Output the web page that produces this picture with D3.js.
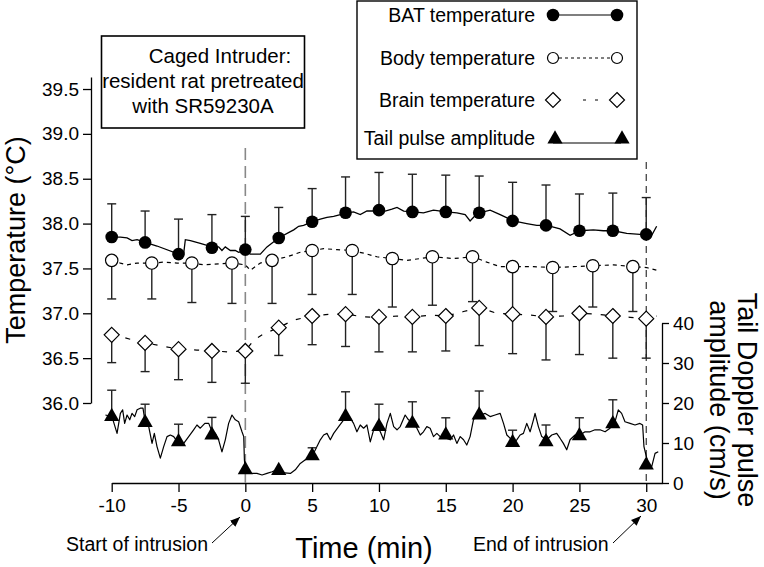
<!DOCTYPE html>
<html>
<head>
<meta charset="utf-8">
<script src="https://cdn.jsdelivr.net/npm/d3@7/dist/d3.min.js"></script>
<style>
  html, body { margin: 0; padding: 0; background: #fff; }
  svg { display: block; font-family: "Liberation Sans", Arial, Helvetica, sans-serif; }
</style>
</head>
<body>
<svg id="chart" width="764" height="567"></svg>
<script>
// ---------- data ----------
const markerTimes = [-10, -7.5, -5, -2.5, 0, 2.5, 5, 7.5, 10, 12.5, 15, 17.5, 20, 22.5, 25, 27.5, 30];
const bodyTimes = [-10, -7, -4, -1, 2, 5, 8, 11, 14, 17, 20, 23, 26, 29];

const batMean = [37.85, 37.79, 37.66, 37.73, 37.71, 37.84, 38.02, 38.12, 38.15, 38.13, 38.13, 38.12, 38.03, 37.98, 37.92, 37.92, 37.88];
const batSE   = [0.37, 0.35, 0.39, 0.37, 0.37, 0.34, 0.37, 0.40, 0.42, 0.42, 0.41, 0.41, 0.43, 0.45, 0.41, 0.42, 0.41];

const bodyMean = [37.59, 37.56, 37.56, 37.56, 37.59, 37.70, 37.70, 37.61, 37.63, 37.63, 37.52, 37.51, 37.53, 37.52];
const bodySE   = [0.43, 0.40, 0.44, 0.45, 0.48, 0.49, 0.49, 0.54, 0.54, 0.50, 0.50, 0.49, 0.46, 0.50];

const brainMean = [36.76, 36.67, 36.60, 36.58, 36.58, 36.84, 36.97, 36.99, 36.96, 36.96, 36.97, 37.06, 36.99, 36.96, 37.00, 36.97, 36.94];
const brainSE   = [0.31, 0.32, 0.34, 0.35, 0.36, 0.31, 0.32, 0.36, 0.39, 0.39, 0.39, 0.42, 0.44, 0.48, 0.46, 0.47, 0.44];

const tailMean = [16.6, 15.1, 10.3, 12.0, 3.3, 3.1, 6.8, 16.6, 14.1, 14.9, 12.0, 17.0, 10.1, 10.3, 11.8, 14.8, 4.5];
const tailSE   = [6.6, 4.6, 4.4, 4.4, 0, 0, 2.0, 6.2, 5.6, 5.4, 4.3, 6.0, 3.1, 4.2, 4.5, 6.0, 0];

// continuous traces [time (min), value]
const batTrace = [[-10,37.85],[-9.35,37.85],[-8.85,37.84],[-8.48,37.81],[-8.10,37.82],[-7.48,37.79],[-6.61,37.75],[-4.99,37.66],[-4.61,37.67],[-4.49,37.82],[-4.11,37.81],[-3.37,37.78],[-2.49,37.74],[-2.0,37.74],[-1.75,37.70],[-1.5,37.74],[-1.12,37.70],[-0.75,37.70],[-0.5,37.68],[0,37.70],[0.37,37.66],[1.12,37.66],[1.62,37.74],[2.49,37.84],[3.37,37.91],[3.62,37.93],[3.99,37.97],[4.36,37.98],[4.99,38.02],[5.61,38.05],[6.11,38.07],[6.61,38.08],[7.11,38.10],[7.56,38.12],[8.10,38.13],[8.60,38.10],[9.10,38.14],[9.60,38.14],[10.05,38.15],[10.47,38.14],[10.97,38.16],[11.35,38.18],[11.85,38.14],[12.59,38.13],[13.33,38.12],[14.08,38.15],[15.03,38.13],[15.83,38.12],[16.45,38.10],[16.82,38.03],[17.20,38.09],[17.52,38.12],[18.32,38.15],[19.07,38.10],[20.06,38.03],[21.06,38.00],[21.81,37.98],[22.56,37.98],[23.55,37.94],[24.30,37.87],[25.05,37.92],[26.04,37.93],[26.79,37.92],[27.54,37.92],[28.54,37.89],[29.53,37.88],[30.03,37.88],[30.41,37.87],[30.78,37.97]];

const bodyTrace = [[-10,37.59],[-9.35,37.56],[-8.85,37.54],[-8.10,37.56],[-6.98,37.56],[-6.11,37.57],[-5.11,37.56],[-3.99,37.56],[-3.12,37.54],[-2.0,37.55],[-1.0,37.56],[0,37.54],[0.37,37.48],[1.12,37.56],[2.0,37.59],[3.12,37.63],[4.11,37.68],[4.99,37.70],[5.86,37.72],[6.86,37.71],[7.98,37.70],[8.85,37.67],[9.85,37.63],[10.97,37.61],[12.09,37.59],[13.09,37.61],[14.08,37.63],[15.58,37.61],[17.07,37.63],[18.07,37.57],[19.07,37.52],[20.06,37.52],[21.56,37.52],[23.05,37.51],[24.55,37.52],[26.04,37.53],[27.54,37.54],[29.04,37.52],[30.03,37.51],[30.78,37.48]];

const brainTrace = [[-10,36.76],[-9.35,36.74],[-8.35,36.70],[-7.48,36.67],[-6.23,36.635],[-4.99,36.60],[-3.62,36.59],[-2.49,36.58],[-1.25,36.57],[0,36.58],[0.62,36.70],[1.37,36.77],[2.49,36.84],[3.62,36.925],[4.99,36.97],[6.36,36.99],[7.56,36.99],[8.85,36.96],[10.05,36.955],[11.35,36.97],[12.59,36.96],[13.83,36.98],[15.03,36.97],[16.33,37.02],[17.57,37.06],[18.82,37.00],[20.06,36.99],[21.31,36.98],[22.56,36.96],[23.80,36.97],[25.05,37.00],[26.29,36.99],[27.54,36.97],[28.79,36.955],[30.03,36.94],[30.78,36.97]];

const tailTrace = [[-10.47,17],[-9.98,16.6],[-9.60,12.4],[-9.35,17.4],[-9.18,18.3],[-9.03,14.9],[-8.85,17],[-8.65,15.8],[-8.48,17.4],[-8.28,16.6],[-8.10,18.3],[-7.86,18.7],[-7.66,18.7],[-7.48,14.9],[-7.23,14.1],[-6.98,9.9],[-6.81,12.4],[-6.61,9.1],[-6.36,6.2],[-6.11,9.1],[-5.86,11.6],[-5.61,12],[-5.36,11.6],[-4.99,9.9],[-4.61,9.9],[-4.24,11.6],[-3.87,13.3],[-3.62,14.5],[-3.37,13.7],[-3.03,14.9],[-2.74,14.9],[-2.49,12.8],[-2.24,12.4],[-2.0,10.8],[-1.75,7.8],[-1.5,10.8],[-1.25,14.9],[-1.0,17],[-0.75,15.8],[-0.5,15.3],[-0.25,12.8],[-0.12,11.6],[-0.07,5.8],[0,2.8],[0.37,2.4],[0.87,2.4],[1.25,2],[1.62,2.4],[2.0,2.8],[2.37,3.3],[2.74,2.6],[3.37,2.4],[3.74,3.3],[4.11,4.9],[4.49,5.8],[4.99,6.6],[5.36,9.1],[5.61,10.8],[5.86,12],[6.11,12.4],[6.36,10.8],[6.61,12.4],[6.98,14.1],[7.36,15.8],[7.56,16.6],[7.86,16.2],[8.10,14.9],[8.35,12.8],[8.60,14.5],[8.85,13.7],[9.10,14.5],[9.35,10.3],[9.60,13.3],[9.85,14.1],[10.10,12.8],[10.35,10.8],[10.60,14.9],[10.85,17.4],[11.10,14.1],[11.35,13.3],[11.59,14.1],[11.96,17],[12.21,15.8],[12.59,14.9],[12.84,13.7],[13.09,12],[13.33,12.8],[13.58,14.1],[13.83,13.7],[14.08,11.6],[14.33,12.4],[14.58,11.6],[15.03,11.2],[15.33,10.8],[15.58,12],[15.83,9.9],[16.08,11.6],[16.33,10.8],[16.57,9.5],[16.82,11.6],[17.07,15.8],[17.32,17],[17.57,17],[17.95,17.4],[18.32,16.6],[18.69,17],[19.07,17.4],[19.32,14.9],[19.57,12],[19.81,11.2],[20.06,9.9],[20.31,10.8],[20.56,12],[20.81,12.4],[21.06,14.9],[21.31,12.8],[21.56,15.8],[21.68,17.4],[21.93,14.1],[22.18,11.6],[22.56,10.8],[22.93,12],[23.30,12.4],[23.55,11.2],[23.80,9.9],[24.05,8.3],[24.30,10.8],[24.67,12],[25.05,12],[25.42,12.8],[25.80,12.8],[26.17,13.3],[26.54,13.3],[26.92,12.8],[27.29,13.7],[27.66,15.3],[27.91,18.3],[28.16,17.4],[28.41,15.3],[28.79,14.9],[29.16,14.5],[29.53,14.9],[29.73,14.5],[29.83,9.1],[29.98,7],[30.16,4.5],[30.41,4.1],[30.66,7.4],[30.90,7.8]];

const xTicks = [-10, -5, 0, 5, 10, 15, 20, 25, 30];
const tempTicks = [36.0, 36.5, 37.0, 37.5, 38.0, 38.5, 39.0, 39.5];
const pulseTicks = [0, 10, 20, 30, 40];

const titleLines = ["Caged Intruder:", "resident rat pretreated", "with SR59230A"];
const legendLabels = ["BAT temperature", "Body temperature", "Brain temperature", "Tail pulse amplitude"];
const xLabel = "Time (min)";
const yLabel = "Temperature (°C)";
const y2Lines = ["Tail Doppler pulse", "amplitude (cm/s)"];
const startLabel = "Start of intrusion";
const endLabel = "End of intrusion";

// ---------- scales ----------
const svg = d3.select("#chart");
const x = d3.scaleLinear().domain([-10, 31.18]).range([111.7, 662]);
const yT = d3.scaleLinear().domain([36, 39.634]).range([403, 77]);
const yP = d3.scaleLinear().domain([0, 40]).range([483, 323]);

// ---------- axes ----------
const fontTick = 19;
const gx = svg.append("g").attr("transform", "translate(0,483)")
  .call(d3.axisBottom(x).tickValues(xTicks).tickSize(9).tickSizeOuter(0).tickPadding(7).tickFormat(d => String(d)));
const gl = svg.append("g").attr("transform", "translate(91,0)")
  .call(d3.axisLeft(yT).tickValues(tempTicks).tickSize(8).tickSizeOuter(0).tickPadding(4).tickFormat(d3.format(".1f")));
const gr = svg.append("g").attr("transform", "translate(662,0)")
  .call(d3.axisRight(yP).tickValues(pulseTicks).tickSize(7).tickSizeOuter(0).tickPadding(4).tickFormat(d => String(d)));
[gx, gl, gr].forEach(g => {
  g.selectAll("path.domain").attr("stroke", "#000").attr("stroke-width", 1.3);
  g.selectAll(".tick line").attr("stroke", "#000").attr("stroke-width", 1.3);
  g.selectAll(".tick text").attr("fill", "#000").style("font-size", fontTick + "px")
    .style("font-family", "'Liberation Sans', Arial, sans-serif");
});

// ---------- intrusion markers ----------
svg.append("line").attr("x1", x(0)).attr("x2", x(0)).attr("y1", 148).attr("y2", 483)
  .attr("stroke", "#888").attr("stroke-width", 1.6).attr("stroke-dasharray", "12,6");
svg.append("line").attr("x1", x(30)).attr("x2", x(30)).attr("y1", 162).attr("y2", 483)
  .attr("stroke", "#222").attr("stroke-width", 1.1).attr("stroke-dasharray", "7,5");

// ---------- traces ----------
const lineT = d3.line().x(d => x(d[0])).y(d => yT(d[1]));
const lineP = d3.line().x(d => x(d[0])).y(d => yP(d[1]));
svg.append("path").attr("d", lineT(batTrace)).attr("fill", "none").attr("stroke", "#000").attr("stroke-width", 1.3);
svg.append("path").attr("d", lineT(bodyTrace)).attr("fill", "none").attr("stroke", "#000").attr("stroke-width", 1.2).attr("stroke-dasharray", "4,4");
svg.append("path").attr("d", lineT(brainTrace)).attr("fill", "none").attr("stroke", "#000").attr("stroke-width", 1.2).attr("stroke-dasharray", "5,9");
svg.append("path").attr("d", lineP(tailTrace)).attr("fill", "none").attr("stroke", "#000").attr("stroke-width", 1.2).attr("stroke-linejoin", "round");

// ---------- error bars ----------
function errBars(times, mean, se, yScale, dir) {
  const g = svg.append("g").attr("stroke", "#222").attr("stroke-width", 1.4);
  times.forEach((t, i) => {
    if (!se[i]) return;
    const cx = x(t), y0 = yScale(mean[i]), y1 = yScale(mean[i] + dir * se[i]);
    g.append("line").attr("x1", cx).attr("x2", cx).attr("y1", y0).attr("y2", y1);
    g.append("line").attr("x1", cx - 4.5).attr("x2", cx + 4.5).attr("y1", y1).attr("y2", y1);
  });
}
errBars(markerTimes, batMean, batSE, yT, 1);
errBars(bodyTimes, bodyMean, bodySE, yT, -1);
errBars(markerTimes, brainMean, brainSE, yT, -1);
errBars(markerTimes, tailMean, tailSE, yP, 1);

// ---------- markers ----------
const diamond = "M0,-7.5L7.5,0L0,7.5L-7.5,0Z";
const triangle = d3.symbol(d3.symbolTriangle, 100)();
svg.append("g").selectAll("circle").data(markerTimes).join("circle")
  .attr("cx", d => x(d)).attr("cy", (d, i) => yT(batMean[i])).attr("r", 6.3).attr("fill", "#000");
svg.append("g").selectAll("circle").data(bodyTimes).join("circle")
  .attr("cx", d => x(d)).attr("cy", (d, i) => yT(bodyMean[i])).attr("r", 6.2)
  .attr("fill", "#fff").attr("stroke", "#000").attr("stroke-width", 1.2);
svg.append("g").selectAll("path").data(markerTimes).join("path")
  .attr("d", diamond).attr("transform", (d, i) => `translate(${x(d)},${yT(brainMean[i])})`)
  .attr("fill", "#fff").attr("stroke", "#000").attr("stroke-width", 1.2);
svg.append("g").selectAll("path").data(markerTimes).join("path")
  .attr("d", triangle).attr("transform", (d, i) => `translate(${x(d)},${yP(tailMean[i])})`)
  .attr("fill", "#000");

// ---------- axis titles ----------
svg.append("text").attr("transform", "translate(25,240) rotate(-90)").attr("text-anchor", "middle")
  .style("font-size", "27px").text(yLabel);
svg.append("text").attr("x", 364).attr("y", 558).attr("text-anchor", "middle")
  .style("font-size", "29px").text(xLabel);
const y2g = svg.append("g").attr("transform", "translate(738,400) rotate(90)");
y2g.append("text").attr("x", 0).attr("y", 0).attr("text-anchor", "middle").style("font-size", "27px").text(y2Lines[0]);
y2g.append("text").attr("x", 0).attr("y", 28).attr("text-anchor", "middle").style("font-size", "27px").text(y2Lines[1]);

// ---------- annotations ----------
const defs = svg.append("defs");
defs.append("marker").attr("id", "arr").attr("viewBox", "0 0 10 10").attr("refX", 10).attr("refY", 5)
  .attr("markerWidth", 10).attr("markerHeight", 10).attr("markerUnits", "userSpaceOnUse").attr("orient", "auto")
  .append("path").attr("d", "M0,1L10,5L0,9Z").attr("fill", "#000");
svg.append("text").attr("x", 66).attr("y", 551).style("font-size", "19.5px").text(startLabel);
svg.append("line").attr("x1", 212).attr("y1", 543).attr("x2", 240).attr("y2", 517)
  .attr("stroke", "#000").attr("stroke-width", 1).attr("marker-end", "url(#arr)");
svg.append("text").attr("x", 473).attr("y", 551).style("font-size", "19.5px").text(endLabel);
svg.append("line").attr("x1", 613).attr("y1", 543).attr("x2", 641).attr("y2", 516)
  .attr("stroke", "#000").attr("stroke-width", 1).attr("marker-end", "url(#arr)");

// ---------- title box ----------
svg.append("rect").attr("x", 101.5).attr("y", 36).attr("width", 203).attr("height", 92)
  .attr("fill", "#fff").attr("stroke", "#000").attr("stroke-width", 1.6);
const tCx = [220, 203, 203];
const tBy = [63, 88, 113];
titleLines.forEach((s, i) => {
  svg.append("text").attr("x", tCx[i]).attr("y", tBy[i]).attr("text-anchor", "middle")
    .style("font-size", "20.5px").text(s);
});

// ---------- legend ----------
svg.append("rect").attr("x", 357).attr("y", 1).attr("width", 280).attr("height", 158)
  .attr("fill", "#fff").attr("stroke", "#000").attr("stroke-width", 1.4);
const rowY = [15, 58, 100, 138];
const lx1 = 553, lx2 = 617;
legendLabels.forEach((s, i) => {
  svg.append("text").attr("x", 535).attr("y", rowY[i] + 7).attr("text-anchor", "end")
    .style("font-size", "19.5px").text(s);
});
// BAT
svg.append("line").attr("x1", lx1).attr("x2", lx2).attr("y1", rowY[0]).attr("y2", rowY[0]).attr("stroke", "#000").attr("stroke-width", 1.2);
[lx1, lx2].forEach(px => svg.append("circle").attr("cx", px).attr("cy", rowY[0]).attr("r", 6.3).attr("fill", "#000"));
// Body
svg.append("line").attr("x1", lx1).attr("x2", lx2).attr("y1", rowY[1]).attr("y2", rowY[1]).attr("stroke", "#000").attr("stroke-width", 1).attr("stroke-dasharray", "3,3");
[lx1, lx2].forEach(px => svg.append("circle").attr("cx", px).attr("cy", rowY[1]).attr("r", 5.5).attr("fill", "#fff").attr("stroke", "#000").attr("stroke-width", 1.2));
// Brain
svg.append("line").attr("x1", 583).attr("x2", 598).attr("y1", rowY[2]).attr("y2", rowY[2]).attr("stroke", "#000").attr("stroke-width", 1).attr("stroke-dasharray", "3,9");
[lx1, lx2].forEach(px => svg.append("path").attr("d", diamond).attr("transform", `translate(${px},${rowY[2]})`).attr("fill", "#fff").attr("stroke", "#000").attr("stroke-width", 1.2));
// Tail
svg.append("line").attr("x1", lx1).attr("x2", lx2 + 4).attr("y1", rowY[3] + 5).attr("y2", rowY[3] + 5).attr("stroke", "#000").attr("stroke-width", 1.2);
[lx1 + 2, lx2 + 5].forEach(px => svg.append("path").attr("d", triangle).attr("transform", `translate(${px},${rowY[3] + 1})`).attr("fill", "#000"));
</script>
</body>
</html>
